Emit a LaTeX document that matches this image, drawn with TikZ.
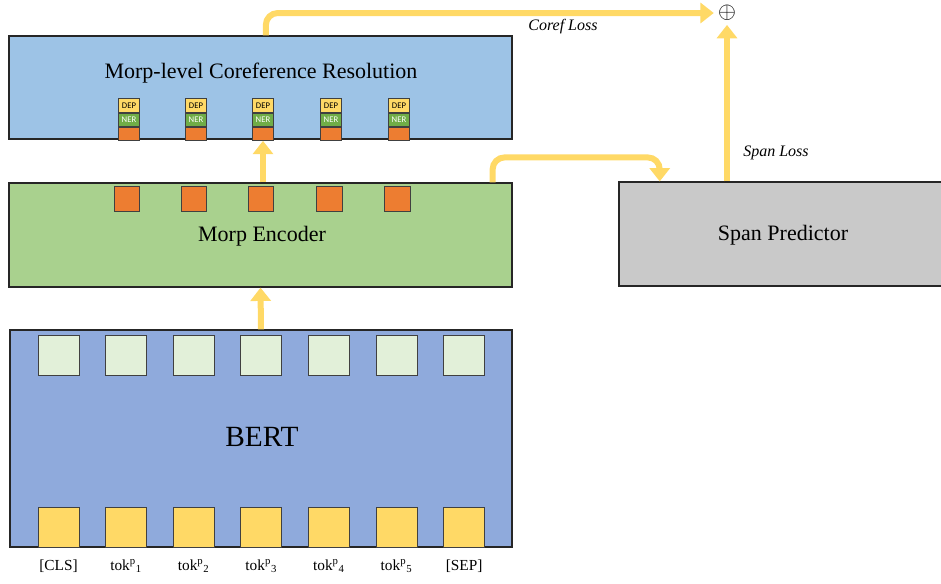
\documentclass[tikz,border=0pt]{standalone}
\usepackage{fontspec}
\setmainfont{Liberation Serif}
\newfontfamily\tagfont{Carlito}
\usepackage{tikz}
\usetikzlibrary{
	positioning,
	arrows.meta
}

\definecolor{corefblue}{HTML}{9DC3E6}
\definecolor{encgreen}{HTML}{A9D18E}
\definecolor{bertblue}{HTML}{8FAADC}
\definecolor{spangray}{HTML}{C9C9C9}
\definecolor{flowyellow}{HTML}{FFD966}
\definecolor{morporange}{HTML}{ED7D31}
\definecolor{nergreen}{HTML}{70AD47}
\definecolor{palegreen}{HTML}{E2F0D9}
\definecolor{tokyellow}{HTML}{FFD966}

\begin{document}
\begin{tikzpicture}[
		x=0.75pt,y=-0.75pt,
		layer/.style={draw=black!85,line width=0.9pt,minimum width=377.25pt,minimum height=78pt,inner sep=0},
		cell/.style={draw=black!75,line width=0.6pt,inner sep=0},
		tag/.style={cell,minimum width=15.75pt,minimum height=10pt,font=\tagfont\fontsize{6.5}{7}\selectfont},
		flow/.style={draw=flowyellow,line width=4.5pt,rounded corners=9pt,-{Triangle[width=15pt,length=10pt,fill=flowyellow]}},
		loss/.style={font=\itshape\fontsize{12}{14}\selectfont},
		title/.style={font=\fontsize{16.5}{19}\selectfont}
	]
	\useasboundingbox (0,0) rectangle (941,583);

	% layers
	\node[layer,fill=corefblue,minimum height=77.25pt] (coref) at (260.5,87.5) {};
	\node[layer,fill=encgreen]                         (enc)   at (260.5,235) {};
	\node[layer,fill=bertblue,minimum width=376.5pt,minimum height=162.75pt] (bert) at (261,438.5) {};
	\node[layer,fill=spangray,minimum width=244.5pt]   (span)  at (782,234) {};

	\node[title] (coreftext) at (261,73)  {Morp-level Coreference Resolution};
	\node[title] (enctext)   at (262,236) {Morp Encoder};
	\node[title] (spantext)  at (783,235) {Span Predictor};
	\node[font=\fontsize{22}{26}\selectfont] (berttext) at (262,437) {BERT};

	% morpheme stacks
	\foreach \i/\x in {1/129,2/196,3/263,4/331,5/399}{
		\node[tag,fill=tokyellow]  (dep\i) at (\x,105.5) {DEP};
		\node[tag,fill=nergreen,text=white,below=0pt of dep\i] (ner\i) {NER};
		\node[tag,fill=morporange,below=0pt of ner\i]         (org\i) {};
	}
	\foreach \i/\x in {1/127,2/194,3/261,4/329.5,5/397.5}
		\node[cell,fill=morporange,minimum size=19pt] (morp\i) at (\x,199) {};

	% bert cells
	\foreach \i/\lab in {0/[CLS],1/tok\textsuperscript{p}\textsubscript{1},2/tok\textsuperscript{p}\textsubscript{2},3/tok\textsuperscript{p}\textsubscript{3},4/tok\textsuperscript{p}\textsubscript{4},5/tok\textsuperscript{p}\textsubscript{5},6/[SEP]}{
		\node[cell,fill=palegreen,minimum width=30.75pt,minimum height=30pt] (hid\i) at (58.5+67.6*\i,355) {};
		\node[cell,fill=tokyellow,minimum width=30.75pt,minimum height=30pt] (emb\i) at (58.5+67.6*\i,527) {};
		\node[font=\fontsize{11.5}{14}\selectfont] (lab\i) at (58.5+67.6*\i,566) {\lab};
	}

	\node[inner sep=0,font=\fontsize{18}{18}\selectfont] (plus) at (727,13) {$\oplus$};
	\node[loss] (corefloss) at (563,27)  {Coref Loss};
	\node[loss] (spanloss)  at (776,153) {Span Loss};

	% arrows
	\draw[flow] (bert.north) -- (enc.south);
	\draw[flow] (enc.north -| org3) -- (org3.south);
	\draw[flow] ([xshift=4pt]coref.north) |- ([xshift=-3pt]plus.west);
	\draw[flow] (plus |- span.north) -- ([yshift=-3pt]plus.south);
	\draw[flow] ([xshift=-15pt]enc.north east) -- ++(0,-25) -| ([xshift=31pt]span.north west);
\end{tikzpicture}
\end{document}
